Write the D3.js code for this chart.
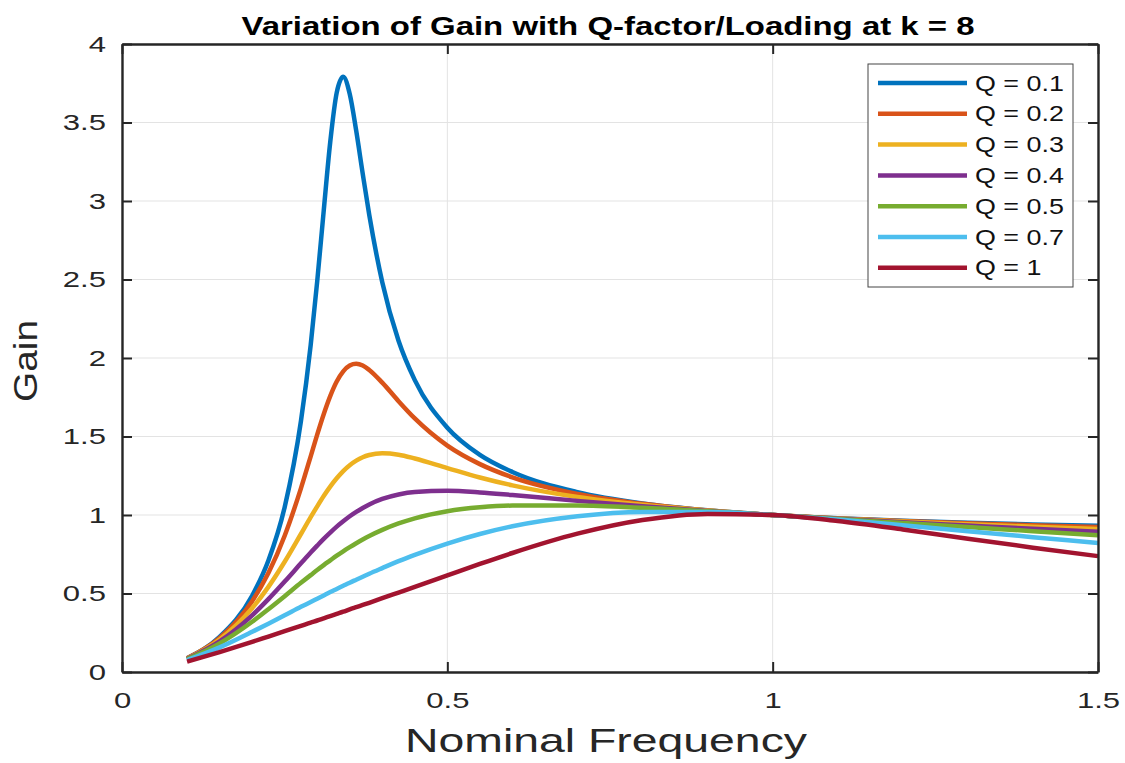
<!DOCTYPE html>
<html>
<head>
<meta charset="utf-8">
<script src="https://cdn.jsdelivr.net/npm/d3@7"></script>
<style>
  body { margin: 0; background: #fff; }
  text { font-family: "Liberation Sans", Arial, Helvetica, sans-serif; fill: #262626; }
</style>
</head>
<body>
<svg id="chart" width="1125" height="763"></svg>
<script>
// Normalised frequency samples
const freq = [0.1, 0.15, 0.2, 0.225, 0.25, 0.275, 0.29, 0.3, 0.31, 0.32, 0.33, 0.34, 0.35, 0.36, 0.37, 0.38,
              0.4, 0.425, 0.45, 0.5, 0.55, 0.6, 0.7, 0.8, 0.9, 1.0, 1.1, 1.2, 1.3, 1.4, 1.5]

// Gain for each Q value
const gainQ01 = [0.088, 0.223, 0.486, 0.710, 1.050, 1.598, 2.083, 2.488, 2.937, 3.374, 3.690, 3.791, 3.681, 3.446, 3.173, 2.912,
                 2.483, 2.110, 1.859, 1.556, 1.383, 1.274, 1.146, 1.074, 1.030, 1.000, 0.979, 0.963, 0.950, 0.940, 0.932]
const gainQ02 = [0.087, 0.217, 0.451, 0.630, 0.868, 1.170, 1.374, 1.512, 1.642, 1.757, 1.850, 1.915, 1.952, 1.963, 1.952, 1.924,
                 1.843, 1.725, 1.615, 1.442, 1.324, 1.240, 1.134, 1.071, 1.029, 1.000, 0.978, 0.961, 0.947, 0.935, 0.924]
const gainQ03 = [0.085, 0.207, 0.406, 0.542, 0.702, 0.879, 0.986, 1.055, 1.121, 1.181, 1.234, 1.280, 1.317, 1.346, 1.368, 1.382,
                 1.393, 1.384, 1.360, 1.299, 1.239, 1.189, 1.115, 1.065, 1.028, 1.000, 0.977, 0.958, 0.941, 0.925, 0.911]
const gainQ04 = [0.083, 0.195, 0.361, 0.464, 0.576, 0.692, 0.761, 0.805, 0.848, 0.888, 0.926, 0.960, 0.992, 1.020, 1.045, 1.067,
                 1.102, 1.131, 1.147, 1.154, 1.144, 1.127, 1.090, 1.056, 1.026, 1.000, 0.976, 0.954, 0.933, 0.912, 0.893]
const gainQ05 = [0.081, 0.182, 0.320, 0.400, 0.483, 0.568, 0.617, 0.650, 0.681, 0.711, 0.741, 0.769, 0.795, 0.820, 0.844, 0.866,
                 0.905, 0.946, 0.979, 1.024, 1.049, 1.060, 1.060, 1.046, 1.024, 1.000, 0.975, 0.949, 0.923, 0.897, 0.871]
const gainQ07 = [0.075, 0.157, 0.256, 0.308, 0.361, 0.415, 0.446, 0.467, 0.488, 0.509, 0.529, 0.549, 0.569, 0.588, 0.607, 0.626,
                 0.662, 0.706, 0.746, 0.818, 0.879, 0.928, 0.992, 1.019, 1.019, 1.000, 0.971, 0.935, 0.897, 0.859, 0.821]
const gainQ1  = [0.066, 0.127, 0.192, 0.226, 0.260, 0.294, 0.315, 0.328, 0.342, 0.356, 0.370, 0.384, 0.399, 0.413, 0.427, 0.441,
                 0.470, 0.506, 0.542, 0.615, 0.688, 0.758, 0.881, 0.968, 1.007, 1.000, 0.962, 0.908, 0.849, 0.792, 0.738]

const seriesNames = ['Q = 0.1', 'Q = 0.2', 'Q = 0.3', 'Q = 0.4', 'Q = 0.5', 'Q = 0.7', 'Q = 1']
const seriesValues = [gainQ01, gainQ02, gainQ03, gainQ04, gainQ05, gainQ07, gainQ1]
const colors = ['#0072BD', '#D95319', '#EDB120', '#7E2F8E', '#77AC30', '#4DBEEE', '#A2142F']

const xTicks = [0, 0.5, 1, 1.5]
const yTicks = [0, 0.5, 1, 1.5, 2, 2.5, 3, 3.5, 4]

const svg = d3.select('#chart')
const ctx = { left: 122, right: 1098, top: 44, bottom: 672 }

const x = d3.scaleLinear().domain([0, 1.5]).range([ctx.left, ctx.right])
const y = d3.scaleLinear().domain([0, 4]).range([ctx.bottom, ctx.top])

// The picture is a bit wider than MATLAB drew it, so text is stretched sideways
const stretch = (sel, k) => sel.each(function () {
    const w = this.getComputedTextLength()
    d3.select(this).attr('textLength', w * k).attr('lengthAdjust', 'spacingAndGlyphs')
})

// Grid
svg.append('g').selectAll('line').data(xTicks).join('line')
    .attr('x1', d => x(d)).attr('x2', d => x(d))
    .attr('y1', ctx.top).attr('y2', ctx.bottom)
    .attr('stroke', '#e3e3e3').attr('stroke-width', 1)
svg.append('g').selectAll('line').data(yTicks).join('line')
    .attr('x1', ctx.left).attr('x2', ctx.right)
    .attr('y1', d => y(d)).attr('y2', d => y(d))
    .attr('stroke', '#e3e3e3').attr('stroke-width', 1)

// Curves
const line = d3.line()
    .x((d, i) => x(freq[i]))
    .y(d => y(d))
    .curve(d3.curveMonotoneX)

svg.append('g').selectAll('path').data(seriesValues).join('path')
    .attr('d', line)
    .attr('fill', 'none')
    .attr('stroke', (d, i) => colors[i])
    .attr('stroke-width', 4.5)

// Axes: box with inward ticks on all four sides
const TICK = 10
const bottomAxis = d3.axisBottom(x).tickValues(xTicks).tickSizeInner(-TICK).tickSizeOuter(0).tickPadding(20).tickFormat(d3.format('~g'))
const leftAxis = d3.axisLeft(y).tickValues(yTicks).tickSizeInner(-TICK).tickSizeOuter(0).tickPadding(16).tickFormat(d3.format('~g'))
const topAxis = d3.axisTop(x).tickValues(xTicks).tickSizeInner(-TICK).tickSizeOuter(0).tickFormat('')
const rightAxis = d3.axisRight(y).tickValues(yTicks).tickSizeInner(-TICK).tickSizeOuter(0).tickFormat('')

const gx = svg.append('g').attr('transform', `translate(0,${ctx.bottom})`).call(bottomAxis)
const gy = svg.append('g').attr('transform', `translate(${ctx.left},0)`).call(leftAxis)
svg.append('g').attr('transform', `translate(0,${ctx.top})`).call(topAxis)
svg.append('g').attr('transform', `translate(${ctx.right},0)`).call(rightAxis)

svg.selectAll('.domain').attr('stroke', '#262626').attr('stroke-width', 2.4)
svg.selectAll('.tick line').attr('stroke', '#262626').attr('stroke-width', 2)
svg.selectAll('.tick text')
    .attr('font-family', '"Liberation Sans", Arial, sans-serif')
    .attr('font-size', 22.5)
    .attr('fill', '#262626')
stretch(gx.selectAll('.tick text'), 1.38)
stretch(gy.selectAll('.tick text'), 1.38)

// Title and axis labels
svg.append('text')
    .attr('x', 608).attr('y', 35)
    .attr('text-anchor', 'middle')
    .attr('font-size', 26).attr('font-weight', 'bold')
    .style('fill', '#000')
    .attr('textLength', 733).attr('lengthAdjust', 'spacingAndGlyphs')
    .text('Variation of Gain with Q-factor/Loading at k = 8')

svg.append('text')
    .attr('x', 606).attr('y', 752)
    .attr('text-anchor', 'middle')
    .attr('font-size', 33)
    .attr('textLength', 402).attr('lengthAdjust', 'spacingAndGlyphs')
    .text('Nominal Frequency')

svg.append('text')
    .attr('transform', 'translate(37,361) rotate(-90)')
    .attr('text-anchor', 'middle')
    .attr('font-size', 34)
    .attr('textLength', 82).attr('lengthAdjust', 'spacingAndGlyphs')
    .text('Gain')

// Legend
const legend = svg.append('g').attr('transform', 'translate(868,64)')
legend.append('rect')
    .attr('width', 205).attr('height', 223)
    .attr('fill', '#fff').attr('stroke', '#444').attr('stroke-width', 1)

const ROW = 30.8
const items = legend.selectAll('g.item').data(seriesNames).join('g')
    .attr('class', 'item')
    .attr('transform', (d, i) => `translate(0,${19 + i * ROW})`)
items.append('line')
    .attr('x1', 10).attr('x2', 99)
    .attr('stroke', (d, i) => colors[i])
    .attr('stroke-width', 4.5)
const labels = items.append('text')
    .attr('x', 107).attr('y', 7.5)
    .attr('font-size', 21.5)
    .style('fill', '#111')
    .text(d => d)
stretch(labels, 1.25)
</script>
</body>
</html>
